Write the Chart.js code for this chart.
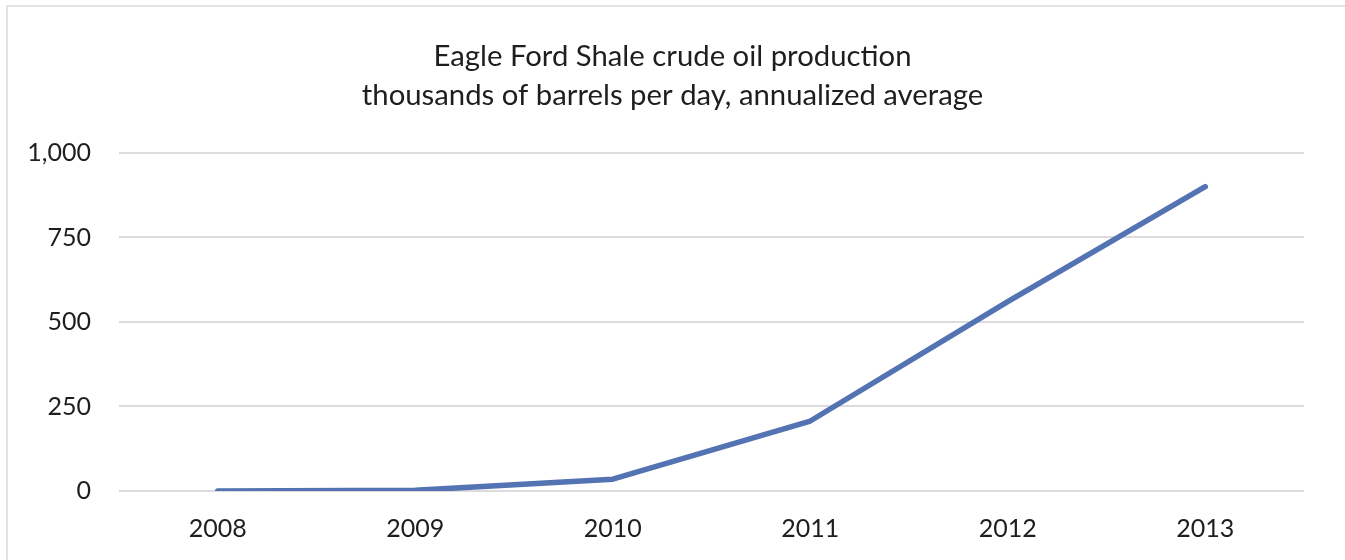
<!DOCTYPE html>
<html>
<head>
<meta charset="utf-8">
<script src="https://cdn.jsdelivr.net/npm/chart.js@4.4.1/dist/chart.umd.min.js"></script>
<style>
  html, body { margin: 0; padding: 0; background: #fff; overflow: hidden; }
  #frame { position: absolute; left: 6px; top: 5px; width: 1345px; height: 620px; border: 2px solid #e2e2e2; box-sizing: border-box; }
  #wrap { position: absolute; left: 0; top: 0; width: 1345px; height: 560px; }
</style>
</head>
<body>
<div id="frame"></div>
<div id="wrap"><canvas id="c" width="1345" height="560"></canvas></div>
<script>
const years = ['2008', '2009', '2010', '2011', '2012', '2013'];
const production = [0, 2, 35, 207, 560, 900];
const yTicks = [0, 250, 500, 750, 1000];
const titleLines = ['Eagle Ford Shale crude oil production', 'thousands of barrels per day, annualized average'];

const FONT = "Lato, 'Open Sans', sans-serif";

new Chart(document.getElementById('c'), {
  type: 'line',
  data: {
    labels: years,
    datasets: [{
      data: production,
      yAxisID: 'y',
      borderColor: '#5473B2',
      borderWidth: 5.5,
      pointRadius: 0,
      tension: 0,
      borderCapStyle: 'round',
      borderJoinStyle: 'round',
      fill: false
    }]
  },
  options: {
    responsive: false,
    animation: false,
    layout: { padding: { left: 0, right: 0, top: 0, bottom: 0 } },
    plugins: {
      legend: { display: false },
      tooltip: { enabled: false },
      title: {
        display: true,
        text: titleLines,
        color: '#1e1e1e',
        font: { family: FONT, size: 29.3, weight: 'normal', lineHeight: 1.33 },
        padding: { top: 37, bottom: 38 }
      }
    },
    scales: {
      x: {
        offset: true,
        afterFit: (s) => { s.height = 69; },
        grid: { display: false, drawTicks: false },
        border: { display: false },
        ticks: {
          color: '#1e1e1e',
          font: { family: FONT, size: 25, lineHeight: 1.2 },
          padding: 23,
          maxRotation: 0
        }
      },
      y: {
        min: 0,
        max: 1000,
        afterBuildTicks: (s) => { s.ticks = yTicks.map(v => ({ value: v })); },
        afterFit: (s) => { s.width = 119; },
        grid: { color: '#dcdcdc', lineWidth: 2, drawTicks: false },
        border: { display: false },
        ticks: {
          color: '#1e1e1e',
          font: { family: FONT, size: 25 },
          padding: 28,
          callback: (v) => v.toLocaleString('en-US')
        }
      },
      yRight: {
        type: 'linear',
        position: 'right',
        min: 0,
        max: 1000,
        afterFit: (s) => { s.width = 41; },
        grid: { display: false, drawTicks: false },
        border: { display: false },
        ticks: { display: false }
      }
    }
  }
});
</script>
</body>
</html>
